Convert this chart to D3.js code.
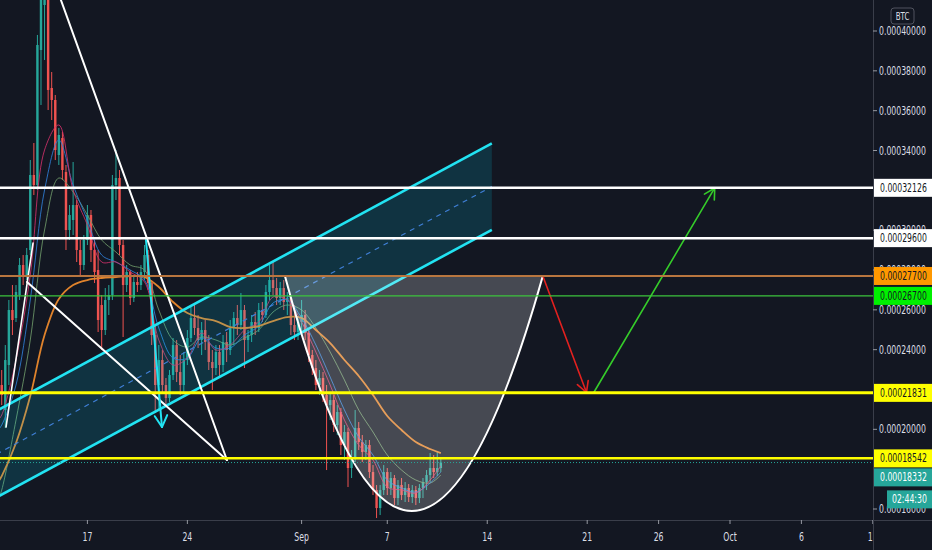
<!DOCTYPE html>
<html><head><meta charset="utf-8">
<script src="https://cdn.jsdelivr.net/npm/d3@7"></script>
<style>html,body{margin:0;padding:0;background:#131722;overflow:hidden}</style>
</head><body><svg id="chart" width="932" height="550"></svg>
<script>
// ---------------- DATA (prices in satoshi, 1e-8 BTC) ----------------
const candleStart = "2020-08-10T18:00";
const candleStepHours = 6;
const openP = [21471,22225,20969,23229,25991,25589,26744,28250,27748,29003,
32770,32267,39046,41306,43314,37138,36536,33774,34627,32920,
30008,30510,31263,29003,28250,29506,30761,29003,27999,26242,
24986,26493,26744,32267,32619,29255,27246,27899,26593,27397,
27246,27899,28752,27346,24735,22225,23480,22225,21572,22727,
24233,22877,22225,23480,24585,25589,25087,24484,24986,24384,
23380,23078,23882,23229,24384,23982,25087,25589,25237,25991,
24484,24735,25388,25087,25991,25740,26895,27497,27095,26593,
27095,26392,26593,25237,24886,25388,25740,24836,23731,23078,
22225,22576,21722,21220,21471,20216,20869,19212,19865,18057,
18559,20065,19362,18860,19212,17856,16952,16048,16952,17856,
17053,17555,16550,17203,16701,17053,16601,16952,16550,17053,
17354,17705,18057,17856,18057];
const highP = [22727,22978,24233,26493,27246,27246,28602,28752,29104,33523,
34376,39800,42561,43817,43566,37942,36787,35130,34929,33272,
31263,33422,31514,29506,29757,31263,31012,29506,29003,26744,
27095,27246,32770,34025,33021,29506,28250,27999,27748,27899,
28250,29255,29003,27497,25237,24233,23982,22576,22978,24585,
24484,23731,23882,24986,26141,26342,25740,25388,25489,24735,
23982,24233,24233,24735,24886,25489,25890,26242,26844,26242,
24986,25740,25890,26342,26392,27246,28250,28401,27598,27397,
27497,26895,26744,26242,25589,26493,25991,25087,23982,23480,
22978,22877,22225,21873,21722,21220,21070,20216,20065,18961,
20969,20367,19714,19463,19463,18207,17203,17203,18207,18057,
17856,17705,17454,17555,17354,17253,17203,17153,17253,17555,
17956,18810,18710,18860,18609];
const lowP = [20718,21220,20065,22225,24735,25388,26493,27246,27497,28752,
31765,32016,36285,38544,36033,35531,33523,33272,32518,29003,
29506,29757,28401,27748,27999,29255,28401,27346,24886,23982,
24735,25740,26493,31514,28752,24635,26895,26242,26392,26895,
26995,27497,26995,24233,20819,20969,21873,21220,21371,22476,
22375,21722,21873,23229,24384,24735,24083,23731,23982,22978,
21974,22727,22576,22877,23380,23731,24233,24735,24986,23078,
23882,24384,24735,24886,25388,25589,26493,26744,26242,26242,
25991,25740,24735,24484,24484,24735,24484,23380,22727,21974,
21722,21371,17956,20467,19865,19714,18710,18459,17103,17555,
18358,18961,18358,18459,17555,16701,15546,15697,16701,16701,
16701,16199,16199,16450,16350,16350,16299,16199,16299,16550,
16952,17354,17555,17655,17856];
const closeP = [22225,21722,23480,25991,25489,26895,28250,27748,28752,32770,
32267,39297,41557,43314,37038,36536,34025,34778,33021,30008,
30761,31263,29003,28250,29506,30761,29003,27899,25489,24986,
26493,26744,32267,32619,29255,27246,27899,26593,27397,27246,
27899,28752,27346,24735,22225,23480,22225,21572,22727,24233,
22877,22225,23480,24585,25589,25087,24484,24986,24384,23380,
23078,23882,23229,24384,23982,25087,25589,25237,25991,24484,
24735,25388,25087,25991,25740,26895,27497,27095,26593,27095,
26392,26593,25237,24886,25388,25740,24836,23731,23078,22225,
22576,21722,21220,21471,20216,20869,19212,19865,18057,18559,
20065,19362,18860,19212,17856,16952,16048,16952,17856,17053,
17555,16550,17203,16701,17053,16601,16952,16550,17053,17354,
17705,18057,17856,18057,18332];

// moving averages, sampled once a day
const maDates = ["2020-08-10T18:00","2020-08-11T00:00","2020-08-12T00:00","2020-08-13T00:00","2020-08-14T00:00",
"2020-08-15T00:00","2020-08-16T00:00","2020-08-17T00:00","2020-08-18T00:00","2020-08-19T00:00","2020-08-20T00:00",
"2020-08-21T00:00","2020-08-22T00:00","2020-08-23T00:00","2020-08-24T00:00","2020-08-25T00:00","2020-08-26T00:00",
"2020-08-27T00:00","2020-08-28T00:00","2020-08-29T00:00","2020-08-30T00:00","2020-08-31T00:00","2020-09-01T00:00",
"2020-09-02T00:00","2020-09-03T00:00","2020-09-04T00:00","2020-09-05T00:00","2020-09-06T00:00","2020-09-07T00:00",
"2020-09-08T00:00","2020-09-09T00:00","2020-09-10T00:00","2020-09-10T18:00"];
const maTrend = [17354,17655,19312,21672,24735,26543,27246,27497,27598,27648,27698,27648,27146,26392,25840,25589,25438,25137,25087,25187,25438,25639,25589,24986,24334,23480,22677,21722,20668,19965,19362,19011,18810];
const maFast = [20467,20718,23480,27748,34025,35280,32016,30259,28401,28401,27899,27397,24484,23229,23580,24836,23982,24233,24986,25388,26643,26493,25388,23882,22225,20467,19212,18459,17103,16952,16801,17454,18157];
const maMid = [19965,20216,22225,26493,32016,34527,32267,30510,28752,28401,27999,27497,25087,23580,23580,24585,24083,24083,24735,25187,26342,26493,25589,24233,22626,20969,19613,18710,17454,17053,16852,17304,17856];
const maSlow = [16450,16952,20467,24484,30008,32619,31916,30761,29506,28903,28250,27999,25991,24484,24133,24635,24484,24233,24585,24986,25890,26242,25991,25087,23882,22476,20969,19865,18710,17956,17454,17304,17705];

// axes
const yTicks = [16000,20000,24000,26000,28000,30000,34000,36000,38000,40000];
const xTickDates = ["2020-08-17T00:00","2020-08-24T00:00","2020-09-01T00:00","2020-09-07T00:00","2020-09-14T00:00","2020-09-21T00:00","2020-09-26T00:00","2020-10-01T00:00","2020-10-06T00:00","2020-10-11T00:00"];
const xTickLabels = ["17","24","Sep","7","14","21","26","Oct","6","11"];

// horizontal levels
const levelPrices = [32126, 29600, 27700, 26700, 21831, 18542];
const lastPrice = 18332;
const countdownText = "02:44:30";
const currencyText = "BTC";

// drawings (date, price)
const steepLine = [["2020-08-14T21:25", 42059], ["2020-08-26T18:30", 18460]];
const lowerLine = [["2020-08-12T18:30", 27397], ["2020-08-26T18:30", 18460]];
const risingLine = [["2020-08-11T07:15", 20115], ["2020-08-13T04:37", 29355]];
const cyanArrow = [["2020-08-21T02:27", 29505], ["2020-08-22T05:20", 20115]];
const channelUpper = [["2020-08-08T18:46", 20206], ["2020-09-14T07:43", 34361]];
const channelWidth = 4344;
const cupPoints = [["2020-08-30T20:00", 27700], ["2020-09-08T14:00", 4100], ["2020-09-17T21:25", 27700]];
const redArrow = [["2020-09-17T21:25", 27700], ["2020-09-20T22:48", 21850]];
const greenArrow = [["2020-09-21T11:04", 21850], ["2020-09-29T22:21", 32120]];

// ---------------- CHART ----------------
const parse = d3.utcParse("%Y-%m-%dT%H:%M");
const W = 932, H = 550, plotR = 873, plotB = 520;
const FONT = "'DejaVu Sans Condensed','Liberation Sans',sans-serif";
const SQUEEZE = 0.75;
const x = d3.scaleUtc().domain([parse("2020-08-17T00:00"), parse("2020-10-06T00:00")]).range([87.4, 801.4]);
const y = d3.scaleLinear().domain([16000, 40000]).range([509, 31]);

const svg = d3.select("#chart");
svg.append("rect").attr("width", W).attr("height", H).attr("fill", "#131722");
const defs = svg.append("defs");
defs.append("clipPath").attr("id", "plotclip")
  .append("rect").attr("x", 0).attr("y", 0).attr("width", plotR).attr("height", plotB);
const plot = svg.append("g").attr("clip-path", "url(#plotclip)");

// condensed label: text placed at origin, then moved and narrowed horizontally
function label(parent, tx, ty, str, opts) {
  const t = parent.append("text").attr("x", 0).attr("y", 0).attr("dy", "0.35em")
    .attr("transform", `translate(${tx},${ty}) scale(${SQUEEZE},1)`)
    .attr("fill", opts.fill || "#dcdfe6").attr("font-family", FONT)
    .attr("font-size", opts.size || 11.5).attr("text-anchor", opts.anchor || "start").text(str);
  return t;
}

// candles
const t0 = parse(candleStart);
const step = candleStepHours * 3600e3;
const candles = closeP.map((c, i) => ({ t: new Date(+t0 + i * step), o: openP[i], h: highP[i], l: lowP[i], c }));
const bw = (x(new Date(+t0 + step)) - x(t0)) * 0.68;
const UP = "#26a69a", DN = "#ef5350";
const cg = plot.append("g");
cg.selectAll("line").data(candles).join("line")
  .attr("x1", d => x(d.t)).attr("x2", d => x(d.t))
  .attr("y1", d => y(d.h)).attr("y2", d => y(d.l))
  .attr("stroke", d => d.c >= d.o ? UP : DN).attr("stroke-width", 1);
cg.selectAll("rect").data(candles).join("rect")
  .attr("x", d => x(d.t) - bw / 2).attr("width", bw)
  .attr("y", d => y(Math.max(d.o, d.c)))
  .attr("height", d => Math.max(1, Math.abs(y(d.o) - y(d.c))))
  .attr("fill", d => d.c >= d.o ? UP : DN);

// moving averages
const maT = maDates.map(parse);
function maLine(vals, color, width, op) {
  const line = d3.line().x((d, i) => x(maT[i])).y(d => y(d)).curve(d3.curveCatmullRom);
  plot.append("path").attr("d", line(vals)).attr("fill", "none")
    .attr("stroke", color).attr("stroke-width", width).attr("opacity", op);
}
maLine(maSlow, "#6f9a6a", 1, 0.85);
maLine(maMid, "#2f7fd8", 1, 0.85);
maLine(maFast, "#d0306a", 1, 0.85);
maLine(maTrend, "#e0832c", 1.8, 1);

// channel
const P = p => [x(parse(p[0])), y(p[1])];
const uA = P(channelUpper[0]), uB = P(channelUpper[1]);
const lA = [x(parse(channelUpper[0][0])), y(channelUpper[0][1] - channelWidth)];
const lB = [x(parse(channelUpper[1][0])), y(channelUpper[1][1] - channelWidth)];
plot.append("path").attr("d", `M${uA}L${uB}L${lB}L${lA}Z`).attr("fill", "rgba(0,229,255,0.14)");
const mA = [uA[0], (uA[1] + lA[1]) / 2], mB = [uB[0], (uB[1] + lB[1]) / 2];
plot.append("line").attr("x1", mA[0]).attr("y1", mA[1]).attr("x2", mB[0]).attr("y2", mB[1])
  .attr("stroke", "#3f7fd6").attr("stroke-width", 1.2).attr("stroke-dasharray", "5,5");
[[uA, uB], [lA, lB]].forEach(([a, b]) => plot.append("line")
  .attr("x1", a[0]).attr("y1", a[1]).attr("x2", b[0]).attr("y2", b[1])
  .attr("stroke", "#22e3f2").attr("stroke-width", 2.6));

// cup
const c0 = P(cupPoints[0]), c1 = P(cupPoints[1]), c2 = P(cupPoints[2]);
const cup = d3.path(); cup.moveTo(c0[0], c0[1]); cup.quadraticCurveTo(c1[0], c1[1], c2[0], c2[1]);
plot.append("path").attr("d", cup.toString() + "Z").attr("fill", "rgba(255,255,255,0.22)");
plot.append("path").attr("d", cup.toString()).attr("fill", "none").attr("stroke", "#ffffff").attr("stroke-width", 2);

// white trend lines
function seg(pts, color, w) {
  const a = P(pts[0]), b = P(pts[1]);
  plot.append("line").attr("x1", a[0]).attr("y1", a[1]).attr("x2", b[0]).attr("y2", b[1])
    .attr("stroke", color).attr("stroke-width", w).attr("stroke-linecap", "round");
  return [a, b];
}
seg(steepLine, "#ffffff", 2);
seg(lowerLine, "#ffffff", 2);
seg(risingLine, "#ffffff", 1.6);

function arrow(pts, color, w, size) {
  const [a, b] = seg(pts, color, w);
  const ang = Math.atan2(b[1] - a[1], b[0] - a[0]);
  [0.5, -0.5].forEach(da => {
    const t = ang + Math.PI + da;
    plot.append("line").attr("x1", b[0]).attr("y1", b[1])
      .attr("x2", b[0] + size * Math.cos(t)).attr("y2", b[1] + size * Math.sin(t))
      .attr("stroke", color).attr("stroke-width", w).attr("stroke-linecap", "round");
  });
}
arrow(cyanArrow, "#22e3f2", 2, 13);
arrow(redArrow, "#e3211f", 1.6, 12);
arrow(greenArrow, "#35cc2a", 1.6, 12);

// horizontal levels
const levelStyle = [
  { line: "#ffffff", w: 2.5, box: "#ffffff", txt: "#131722" },
  { line: "#ffffff", w: 2.5, box: "#ffffff", txt: "#131722" },
  { line: "#b9763f", w: 1.8, box: "#ff9800", txt: "#131722" },
  { line: "#3cc43c", w: 1.4, box: "#00f000", txt: "#131722" },
  { line: "#ffff00", w: 3, box: "#ffff00", txt: "#131722" },
  { line: "#ffff00", w: 2.5, box: "#ffff00", txt: "#131722" }
];
levelPrices.forEach((v, i) => plot.append("line").attr("x1", 0).attr("x2", plotR)
  .attr("y1", y(v)).attr("y2", y(v)).attr("stroke", levelStyle[i].line).attr("stroke-width", levelStyle[i].w));
plot.append("line").attr("x1", 0).attr("x2", plotR).attr("y1", y(lastPrice)).attr("y2", y(lastPrice))
  .attr("stroke", UP).attr("stroke-width", 1).attr("stroke-dasharray", "1,2");

// axes frame
svg.append("line").attr("x1", plotR + 0.5).attr("x2", plotR + 0.5).attr("y1", 0).attr("y2", H).attr("stroke", "#3a3e4a");
svg.append("line").attr("x1", 0).attr("x2", W).attr("y1", plotB + 0.5).attr("y2", plotB + 0.5).attr("stroke", "#3a3e4a");

// y ticks
const fmt = v => (v / 1e8).toFixed(8);
const ya = svg.append("g");
yTicks.forEach(v => {
  ya.append("line").attr("x1", plotR).attr("x2", plotR + 4).attr("y1", y(v)).attr("y2", y(v)).attr("stroke", "#9598a1");
  label(ya, 879, y(v), fmt(v), {});
});

// x ticks
defs.append("clipPath").attr("id", "xclip")
  .append("rect").attr("x", 0).attr("y", plotB).attr("width", plotR).attr("height", H - plotB);
const xg = svg.append("g").attr("clip-path", "url(#xclip)");
xTickDates.forEach((d, i) => {
  const px = x(parse(d));
  xg.append("line").attr("x1", px).attr("x2", px).attr("y1", plotB).attr("y2", plotB + 4).attr("stroke", "#9598a1");
  label(xg, px, 537, xTickLabels[i], { anchor: "middle" });
});

// price labels
const BH = 18;
function priceBox(cy, x0, bg, fg, text) {
  svg.append("rect").attr("x", x0).attr("y", cy - BH / 2).attr("width", W - x0).attr("height", BH).attr("fill", bg);
  label(svg, x0 + 6, cy, text, { fill: fg });
}
levelPrices.forEach((v, i) => priceBox(y(v), plotR + 1, levelStyle[i].box, levelStyle[i].txt, fmt(v)));
const lastCy = Math.max(y(lastPrice), y(levelPrices[levelPrices.length - 1]) + BH + 1);
priceBox(lastCy, plotR + 1, UP, "#ffffff", fmt(lastPrice));
svg.append("rect").attr("x", 887).attr("y", lastCy + BH / 2 + 4).attr("width", W - 887).attr("height", BH).attr("fill", UP);
label(svg, 892, lastCy + BH + 4, countdownText, { fill: "#ffffff" });

// currency badge
svg.append("rect").attr("x", 891).attr("y", 8).attr("width", 23).attr("height", 16).attr("rx", 3)
  .attr("fill", "#131722").attr("stroke", "#50535e");
label(svg, 902.5, 16, currencyText, { anchor: "middle", size: 10.5 });
</script>
</body></html>
